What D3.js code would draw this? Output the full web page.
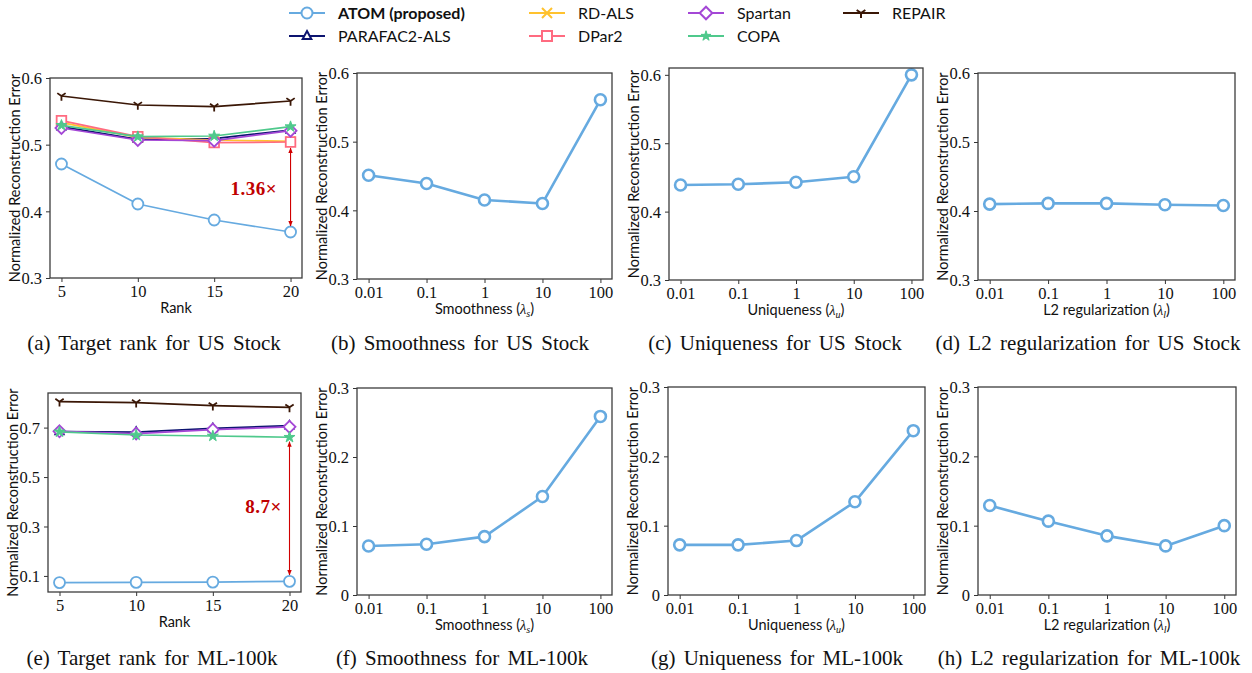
<!DOCTYPE html>
<html>
<head>
<meta charset="utf-8">
<script src="https://cdn.jsdelivr.net/npm/d3@7"></script>
<style>
  body { margin: 0; background: #fff; }
  svg { display: block; }
</style>
</head>
<body>
<script>
// ---- data ----
const ranks = [5, 10, 15, 20];
const lambdas = ["0.01", "0.1", "1", "10", "100"];
const methods = ["ATOM (proposed)", "PARAFAC2-ALS", "RD-ALS", "DPar2", "Spartan", "COPA", "REPAIR"];

// target rank, US Stock
const stockAtom = [0.471, 0.411, 0.387, 0.369];
const stockParafac2 = [0.527, 0.508, 0.509, 0.522];
const stockRdAls = [0.533, 0.511, 0.507, 0.505];
const stockDpar2 = [0.536, 0.512, 0.503, 0.504];
const stockSpartan = [0.525, 0.507, 0.506, 0.521];
const stockCopa = [0.529, 0.512, 0.513, 0.527];
const stockRepair = [0.573, 0.5595, 0.557, 0.5655];

// target rank, ML-100k
const mlAtom = [0.073, 0.074, 0.075, 0.078];
const mlParafac2 = [0.684, 0.682, 0.697, 0.708];
const mlSpartan = [0.685, 0.676, 0.692, 0.703];
const mlCopa = [0.683, 0.670, 0.666, 0.661];
const mlRepair = [0.805, 0.801, 0.789, 0.782];

// hyperparameter sensitivity of ATOM
const stockSmooth = [0.451, 0.439, 0.415, 0.410, 0.561];
const stockUnique = [0.439, 0.440, 0.443, 0.451, 0.600];
const stockL2 = [0.410, 0.411, 0.411, 0.409, 0.408];
const mlSmooth = [0.071, 0.0735, 0.0846, 0.1427, 0.2588];
const mlUnique = [0.0723, 0.0723, 0.0785, 0.1344, 0.237];
const mlL2 = [0.129, 0.1065, 0.0853, 0.0708, 0.100];

const speedupStock = "1.36×";
const speedupMl = "8.7×";

// ---- styling ----
const width = 1252;
const height = 673;
const sans = "Lato, 'Open Sans', sans-serif";
const serif = "'Liberation Serif', 'Times New Roman', serif";

const style = {
  "ATOM (proposed)": { color: "#66aae0", shape: "circle" },
  "PARAFAC2-ALS": { color: "#0d1470", shape: "triangle" },
  "RD-ALS": { color: "#ffc22e", shape: "x" },
  "DPar2": { color: "#ff6b80", shape: "square" },
  "Spartan": { color: "#a447d6", shape: "diamond" },
  "COPA": { color: "#4fc98c", shape: "star" },
  "REPAIR": { color: "#3a1706", shape: "tri" }
};

function markerPath(shape, r) {
  const c = 0.866;
  switch (shape) {
    case "triangle": return `M0,${-r}L${r * c},${r * 0.6}L${-r * c},${r * 0.6}Z`;
    case "square": return `M${-r},${-r}H${r}V${r}H${-r}Z`;
    case "diamond": return `M0,${-r * 1.25}L${r * 1.25},0L0,${r * 1.25}L${-r * 1.25},0Z`;
    case "x": return `M${-r},${-r}L${r},${r}M${-r},${r}L${r},${-r}`;
    case "star": return d3.symbol(d3.symbolStar, r * r * 1.25)();
    case "tri": return `M0,0V${r}M0,0L${-r * c},${-r * 0.6}M0,0L${r * c},${-r * 0.6}`;
  }
}

function drawMarker(g, shape, color, r, sw) {
  if (shape === "circle") {
    return g.append("circle").attr("r", r).attr("fill", "#fff")
      .attr("stroke", color).attr("stroke-width", sw);
  }
  const filled = shape === "star";
  return g.append("path").attr("d", markerPath(shape, r))
    .attr("fill", filled ? color : (shape === "x" || shape === "tri" ? "none" : "#fff"))
    .attr("stroke", color).attr("stroke-width", filled ? 1 : sw);
}

const svg = d3.select("body").append("svg")
  .attr("width", width).attr("height", height);

svg.append("defs").append("marker")
  .attr("id", "arrow")
  .attr("viewBox", "0 0 10 10")
  .attr("refX", 9).attr("refY", 5)
  .attr("markerWidth", 5).attr("markerHeight", 5)
  .attr("orient", "auto-start-reverse")
  .append("path").attr("d", "M0,1L10,5L0,9Z").attr("fill", "#d00000");

// ---- panels ----
const fmt = d => (d === 0 ? "0" : d3.format(".1f")(d));

const rankStock = [
  ["PARAFAC2-ALS", stockParafac2], ["RD-ALS", stockRdAls], ["DPar2", stockDpar2],
  ["Spartan", stockSpartan], ["COPA", stockCopa], ["REPAIR", stockRepair],
  ["ATOM (proposed)", stockAtom]
];
const rankMl = [
  ["PARAFAC2-ALS", mlParafac2], ["Spartan", mlSpartan], ["COPA", mlCopa],
  ["REPAIR", mlRepair], ["ATOM (proposed)", mlAtom]
];

const panels = [
  { box: [50, 302, 78, 278], kind: "rank", y: [0.3, 0.6], ticks: [0.3, 0.4, 0.5, 0.6],
    series: rankStock, xlab: ["Rank"], cap: "(a) Target rank for US Stock", capX: 154, capY: 350,
    note: { x: 20, from: 0.495, to: 0.378, label: speedupStock, lx: 17.6, ly: 0.434 } },
  { box: [357, 612, 73, 279], kind: "lambda", y: [0.3, 0.6], ticks: [0.3, 0.4, 0.5, 0.6],
    series: [["ATOM (proposed)", stockSmooth]], xlab: ["Smoothness (", "λ", "s", ")"],
    cap: "(b) Smoothness for US Stock", capX: 460, capY: 350 },
  { box: [669, 923, 68, 280], kind: "lambda", y: [0.3, 0.61], ticks: [0.3, 0.4, 0.5, 0.6],
    series: [["ATOM (proposed)", stockUnique]], xlab: ["Uniqueness (", "λ", "u", ")"],
    cap: "(c) Uniqueness for US Stock", capX: 775, capY: 350 },
  { box: [978, 1235, 73, 280], kind: "lambda", y: [0.3, 0.6], ticks: [0.3, 0.4, 0.5, 0.6],
    series: [["ATOM (proposed)", stockL2]], xlab: ["L2 regularization (", "λ", "l", ")"],
    cap: "(d) L2 regularization for US Stock", capX: 1088, capY: 350 },
  { box: [48, 301, 393, 592], kind: "rank", y: [0.035, 0.84], ticks: [0.1, 0.3, 0.5, 0.7],
    series: rankMl, xlab: ["Rank"], cap: "(e) Target rank for ML-100k", capX: 152, capY: 665,
    note: { x: 20, from: 0.643, to: 0.104, label: speedupMl, lx: 18.3, ly: 0.383 } },
  { box: [357, 612, 388, 595], kind: "lambda", y: [0, 0.3], ticks: [0, 0.1, 0.2, 0.3],
    series: [["ATOM (proposed)", mlSmooth]], xlab: ["Smoothness (", "λ", "s", ")"],
    cap: "(f) Smoothness for ML-100k", capX: 462, capY: 665 },
  { box: [668, 925, 387, 595], kind: "lambda", y: [0, 0.3], ticks: [0, 0.1, 0.2, 0.3],
    series: [["ATOM (proposed)", mlUnique]], xlab: ["Uniqueness (", "λ", "u", ")"],
    cap: "(g) Uniqueness for ML-100k", capX: 777, capY: 665 },
  { box: [978, 1236, 387, 595], kind: "lambda", y: [0, 0.3], ticks: [0, 0.1, 0.2, 0.3],
    series: [["ATOM (proposed)", mlL2]], xlab: ["L2 regularization (", "λ", "l", ")"],
    cap: "(h) L2 regularization for ML-100k", capX: 1089, capY: 665 }
];

panels.forEach(p => {
  const [x0, x1, y0, y1] = p.box;
  const g = svg.append("g");
  const y = d3.scaleLinear().domain(p.y).range([y1, y0]);
  let x, xVals, xTicks;
  if (p.kind === "rank") {
    x = d3.scaleLinear().domain([4.25, 20.75]).range([x0, x1]);
    xVals = ranks;
    xTicks = d3.axisBottom(x).tickValues(ranks).tickFormat(d3.format("d"));
  } else {
    x = d3.scalePoint().domain(lambdas).range([x0, x1]).padding(0.2);
    xVals = lambdas;
    xTicks = d3.axisBottom(x);
  }
  const big = p.kind === "lambda";

  // axes
  const ax = g.append("g").attr("transform", `translate(0,${y1})`)
    .call(xTicks.tickSize(4).tickPadding(3));
  const ay = g.append("g").attr("transform", `translate(${x0},0)`)
    .call(d3.axisLeft(y).tickValues(p.ticks).tickFormat(fmt).tickSize(4).tickPadding(4));
  [ax, ay].forEach(a => {
    a.select(".domain").remove();
    a.selectAll("line").attr("stroke", "#333").attr("stroke-width", 1);
    a.selectAll("text").attr("font-family", serif).attr("font-size", 16.5).attr("fill", "#111");
  });
  ay.selectAll("text").attr("dy", "0.35em");

  // lines + markers
  p.series.forEach(([name, vals]) => {
    const s = style[name];
    const pts = vals.map((v, i) => [x(xVals[i]), y(v)]);
    g.append("path").attr("d", d3.line()(pts))
      .attr("fill", "none").attr("stroke", s.color)
      .attr("stroke-width", big ? 2.6 : 1.7).attr("stroke-linejoin", "round");
    pts.forEach(([px, py]) => {
      const m = g.append("g").attr("transform", `translate(${px},${py})`);
      const r = big ? 5.5 : (s.shape === "circle" ? 5.5 : s.shape === "star" ? 5.5 : 4.8);
      drawMarker(m, s.shape, s.color, r, big ? 2.6 : 1.8);
    });
  });

  // speed-up annotation
  if (p.note) {
    const n = p.note;
    g.append("line")
      .attr("x1", x(n.x)).attr("x2", x(n.x))
      .attr("y1", y(n.from)).attr("y2", y(n.to))
      .attr("stroke", "#d00000").attr("stroke-width", 1.1)
      .attr("marker-start", "url(#arrow)").attr("marker-end", "url(#arrow)");
    g.append("text").attr("x", x(n.lx)).attr("y", y(n.ly)).attr("dy", "0.35em")
      .attr("text-anchor", "middle").attr("font-family", serif)
      .attr("font-weight", "bold").attr("font-size", 19).attr("fill", "#c00000")
      .attr("letter-spacing", 0.5)
      .text(n.label);
  }

  // frame
  g.append("rect").attr("x", x0).attr("y", y0)
    .attr("width", x1 - x0).attr("height", y1 - y0)
    .attr("fill", "none").attr("stroke", "#3c3c3c").attr("stroke-width", 1.3);

  // axis labels
  g.append("text")
    .attr("transform", `translate(${x0 - 35},${(y0 + y1) / 2}) rotate(-90)`)
    .attr("dy", "0.35em").attr("text-anchor", "middle")
    .attr("font-family", sans).attr("font-size", 14.5).attr("fill", "#111")
    .text("Normalized Reconstruction Error");

  const xl = g.append("text")
    .attr("x", (x0 + x1) / 2).attr("y", y1 + 35)
    .attr("text-anchor", "middle")
    .attr("font-family", sans).attr("font-size", 14.5).attr("fill", "#111");
  if (p.xlab.length === 1) {
    xl.text(p.xlab[0]);
  } else {
    xl.append("tspan").text(p.xlab[0]);
    xl.append("tspan").attr("font-family", serif).attr("font-style", "italic").text(p.xlab[1]);
    xl.append("tspan").attr("font-family", serif).attr("font-style", "italic")
      .attr("font-size", 10).attr("dy", 3).text(p.xlab[2]);
    xl.append("tspan").attr("dy", -3).text(p.xlab[3]);
  }

  // caption
  svg.append("text").attr("x", p.capX).attr("y", p.capY)
    .attr("text-anchor", "middle").attr("font-family", serif)
    .attr("font-size", 21).attr("fill", "#111")
    .attr("word-spacing", 3)
    .text(p.cap);
});

// ---- legend ----
const legendCols = [289, 529, 688, 843];
const legendRows = [13, 36];
methods.forEach((name, i) => {
  const s = style[name];
  const lx = legendCols[Math.floor(i / 2)];
  const ly = legendRows[i % 2];
  const lg = svg.append("g").attr("transform", `translate(${lx},${ly})`);
  lg.append("line").attr("x1", 0).attr("x2", 36)
    .attr("stroke", s.color).attr("stroke-width", 2.2);
  const m = lg.append("g").attr("transform", "translate(18,0)");
  drawMarker(m, s.shape, s.color, s.shape === "circle" ? 5.5 : 5, 2);
  lg.append("text").attr("x", 49).attr("dy", "0.35em")
    .attr("font-family", sans).attr("font-size", 16).attr("fill", "#111")
    .attr("font-weight", i === 0 ? "bold" : "normal")
    .text(name);
});
</script>
</body>
</html>
